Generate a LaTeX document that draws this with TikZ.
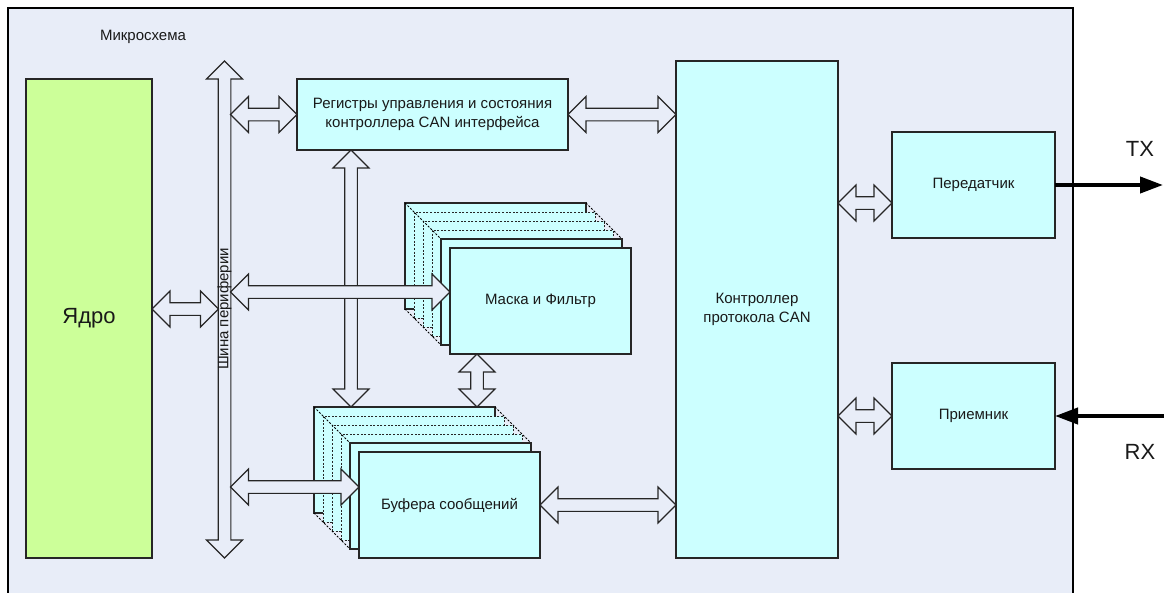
\documentclass[tikz,border=0pt]{standalone}
\usepackage{fontspec}
\setmainfont{Liberation Sans}
\usetikzlibrary{calc,arrows.meta}
\definecolor{chipbg}{HTML}{E8EDF8}
\definecolor{cyanbox}{HTML}{CCFFFF}
\definecolor{greenbox}{HTML}{CCFF99}
\newcommand{\arrowH}[2]{\filldraw[fat] let \p1=(#1), \p2=(#2) in (\x1,\y1) -- (\x1+18pt,\y1+18pt) -- (\x1+18pt,\y1+6.3pt) -- (\x2-18pt,\y1+6.3pt) -- (\x2-18pt,\y1+18pt) -- (\x2,\y1) -- (\x2-18pt,\y1-18pt) -- (\x2-18pt,\y1-6.3pt) -- (\x1+18pt,\y1-6.3pt) -- (\x1+18pt,\y1-18pt) -- cycle;}
\newcommand{\arrowV}[2]{\filldraw[fat] let \p1=(#1), \p2=(#2) in (\x1,\y1) -- (\x1+18pt,\y1-18pt) -- (\x1+6.3pt,\y1-18pt) -- (\x1+6.3pt,\y2+18pt) -- (\x1+18pt,\y2+18pt) -- (\x1,\y2) -- (\x1-18pt,\y2+18pt) -- (\x1-6.3pt,\y2+18pt) -- (\x1-6.3pt,\y1-18pt) -- (\x1-18pt,\y1-18pt) -- cycle;}
\newcommand{\cardstack}[4]{\node[card] (#1back) at (#2+90.5,#3+53){};
        \foreach \k in {9,18,27}{\node[card, dots] at (#2+90.5+\k,#3+53+\k){};}
        \draw[dots] (#1back.north west) -- ++(36,36);
        \draw[dots] (#1back.north east) -- ++(36,36);
        \draw[dots] (#1back.south west) -- ++(36,36);
        \node[card] at (#2+90.5+36,#3+53+36){};
        \node[card] (#1) at (#2+90.5+45,#3+53+45){#4};
    }

\begin{document}
\begin{tikzpicture}
                [
                x=1pt, y=-1pt,
                every node/.style={font=\fontsize{15pt}{19pt}\selectfont, text=black!90},
                block/.style={rectangle, draw=black!85, line width=1.1pt, fill=cyanbox, inner sep=0pt, outer sep=0pt, align=center},
                card/.style={block, minimum width=181pt, minimum height=106pt},
                dots/.style={line width=0.9pt, dash pattern=on 2pt off 1.6pt},
                fat/.style={draw=black!85, line width=1.1pt, fill=chipbg, line join=miter},
                sig/.style={line width=4pt, -{Triangle[length=23pt,width=16pt]}},
                biglbl/.style={font=\fontsize{22pt}{26pt}\selectfont},
                ]
                \useasboundingbox (0,0) rectangle (1164,592);
                \draw[line width=2.2pt, fill=chipbg] (8,8) rectangle (1073,610);
                \node (chip) at (143,37) {Микросхема};
                \node[block, fill=greenbox, minimum width=126pt, minimum height=479pt, biglbl] (core) at (89,318.5) {Ядро};
                \node[block, minimum width=271pt, minimum height=71pt] (reg) at (432.5,114.5) {Регистры управления и состояния\\контроллера CAN интерфейса};
                \node[block, minimum width=162pt, minimum height=497pt] (ctrl) at (757,309.5) {Контроллер\\протокола CAN};
                \node[block, minimum width=163pt, minimum height=106pt] (tx) at (973.5,185) {Передатчик};
                \node[block, minimum width=163pt, minimum height=106pt] (rx) at (973.5,416) {Приемник};
                \cardstack{mask}{405}{203}{Маска и Фильтр}
                \cardstack{buf}{314}{407}{Буфера сообщений}
                % bus
                \coordinate (bustop) at (224.5,61);
                \coordinate (busbot) at (224.5,558);
                \coordinate (busL) at (218.5,309);
                \coordinate (busR) at (230.5,309);
                \arrowV{bustop}{busbot}
                % vertical links
                \coordinate (regout) at ([xshift=-81.5pt]reg.south);
                \coordinate (maskout) at ([xshift=-63.5pt]mask.south);
                \arrowV{regout}{bufback.north}
                \arrowV{maskout}{bufback.north}
                % horizontal links
                \coordinate (maskin) at ([yshift=9pt]mask.west);
                \coordinate (bufin) at ([yshift=18pt]buf.west);
                \coordinate (txin) at ([yshift=-18pt]tx.west);
                \arrowH{core.east |- busL}{busL}
                \arrowH{busR |- reg.west}{reg.west}
                \arrowH{busR |- maskin}{maskin}
                \arrowH{busR |- bufin}{bufin}
                \arrowH{reg.east}{ctrl.west}
                \arrowH{buf.east}{ctrl.west}
                \arrowH{ctrl.east |- txin}{txin}
                \arrowH{ctrl.east |- rx.west}{rx.west}
                \node[rotate=90] (bus) at (224.5,309) {Шина периферии};
                % outside lines
                \coordinate (txout) at (1163,185);
                \coordinate (rxin) at (1164,416);
                \draw[sig] (tx.east) -- (txout);
                \draw[sig] (rxin) -- (rx.east);
                \node[biglbl] (txlbl) at (1140,149) {TX};
                \node[biglbl] (rxlbl) at (1140,452) {RX};
            \end{tikzpicture}
\end{document}
